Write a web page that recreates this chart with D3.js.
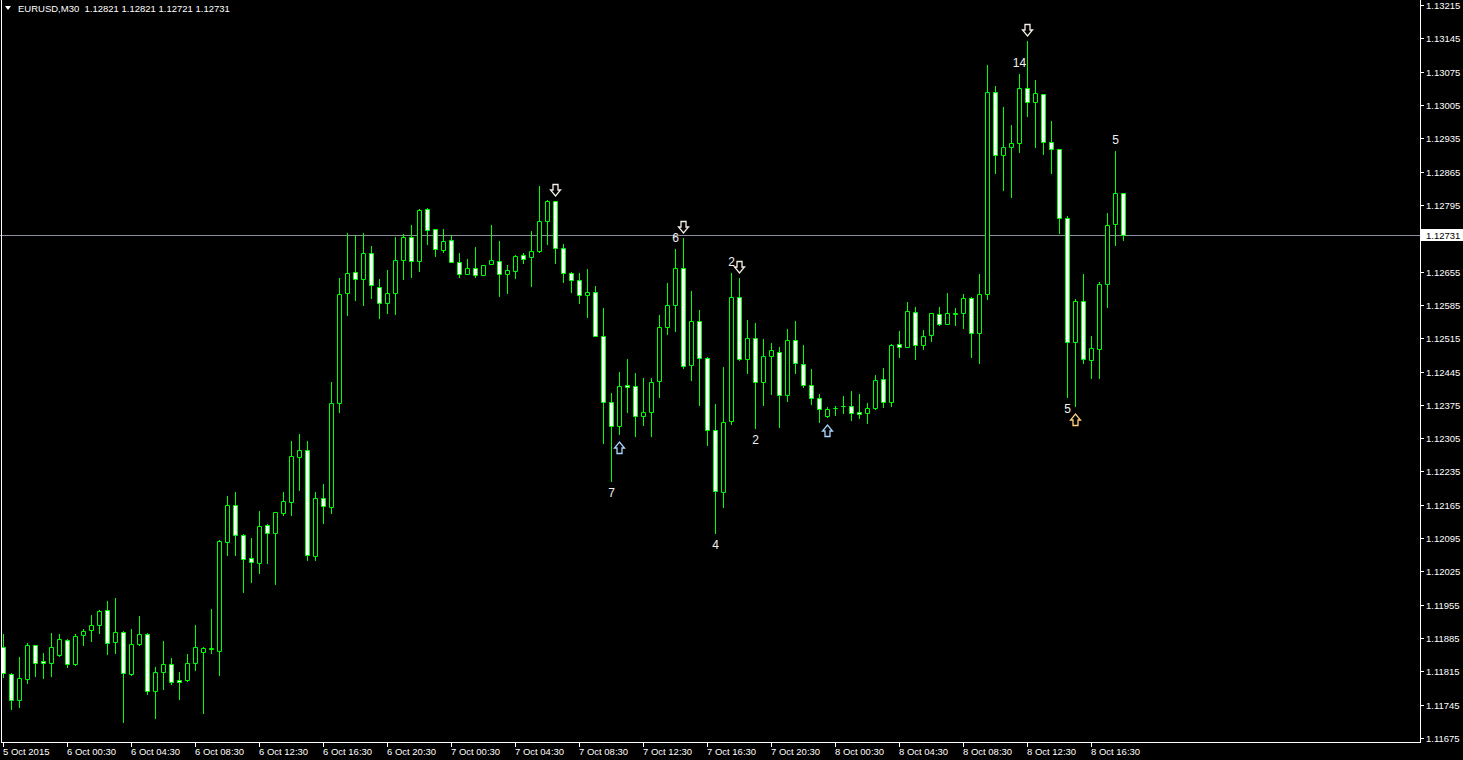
<!DOCTYPE html>
<html><head><meta charset="utf-8">
<script src="https://cdn.jsdelivr.net/npm/d3@7"></script>
<style>html,body{margin:0;padding:0;background:#000;overflow:hidden}svg{display:block}</style>
</head><body>
<svg id="c" width="1463" height="760"></svg>
<script>
const headerText = "EURUSD,M30  1.12821 1.12821 1.12721 1.12731";
const opens = [1.11866,1.11809,1.11755,1.11799,1.11870,1.11837,1.11833,1.11849,1.11881,1.11830,
1.11891,1.11902,1.11912,1.11944,1.11877,1.11898,1.11809,1.11872,1.11893,1.11774,
1.11814,1.11830,1.11797,1.11797,1.11833,1.11856,1.11862,1.11858,1.12087,1.12164,
1.12101,1.12053,1.12043,1.12122,1.12106,1.12148,1.12171,1.12265,1.12280,1.12057,
1.12179,1.12160,1.12379,1.12610,1.12654,1.12639,1.12694,1.12623,1.12589,1.12610,
1.12679,1.12728,1.12677,1.12786,1.12744,1.12700,1.12721,1.12675,1.12650,1.12662,
1.12648,1.12671,1.12677,1.12650,1.12656,1.12690,1.12686,1.12698,1.12761,1.12803,
1.12704,1.12652,1.12637,1.12606,1.12612,1.12520,1.12381,1.12330,1.12417,1.12414,
1.12351,1.12360,1.12425,1.12538,1.12585,1.12662,1.12459,1.12551,1.12473,1.12322,
1.12192,1.12341,1.12601,1.12471,1.12515,1.12423,1.12478,1.12486,1.12396,1.12511,
1.12461,1.12417,1.12389,1.12351,1.12368,1.12372,1.12372,1.12360,1.12358,1.12368,
1.12429,1.12381,1.12503,1.12496,1.12570,1.12501,1.12522,1.12566,1.12545,1.12566,
1.12568,1.12599,1.12526,1.12608,1.13032,1.12900,1.12917,1.12925,1.13041,1.13011,
1.13028,1.12927,1.12912,1.12767,1.12507,1.12593,1.12469,1.12492,1.12629,1.12755,
1.12821];
const highs = [1.11893,1.11811,1.11845,1.11875,1.11871,1.11854,1.11896,1.11893,1.11883,1.11893,
1.11904,1.11933,1.11944,1.11963,1.11969,1.11900,1.11904,1.11931,1.11896,1.11824,
1.11879,1.11843,1.11814,1.11851,1.11912,1.11866,1.11946,1.12091,1.12183,1.12192,
1.12104,1.12095,1.12152,1.12125,1.12150,1.12192,1.12299,1.12314,1.12299,1.12192,
1.12209,1.12423,1.12641,1.12736,1.12732,1.12736,1.12709,1.12639,1.12658,1.12728,
1.12734,1.12753,1.12786,1.12788,1.12745,1.12744,1.12732,1.12694,1.12681,1.12707,
1.12669,1.12753,1.12719,1.12669,1.12690,1.12694,1.12740,1.12835,1.12805,1.12804,
1.12713,1.12654,1.12652,1.12660,1.12625,1.12578,1.12400,1.12444,1.12471,1.12442,
1.12431,1.12431,1.12564,1.12631,1.12702,1.12725,1.12614,1.12574,1.12475,1.12377,
1.12454,1.12652,1.12641,1.12553,1.12547,1.12513,1.12505,1.12496,1.12534,1.12551,
1.12501,1.12450,1.12398,1.12370,1.12372,1.12393,1.12404,1.12398,1.12379,1.12438,
1.12452,1.12503,1.12530,1.12591,1.12580,1.12532,1.12568,1.12580,1.12610,1.12578,
1.12608,1.12601,1.12650,1.13089,1.13045,1.13001,1.12963,1.13070,1.13139,1.13057,
1.13029,1.12971,1.12913,1.12772,1.12597,1.12650,1.12520,1.12633,1.12778,1.12908,
1.12821];
const lows = [1.11803,1.11736,1.11740,1.11791,1.11805,1.11801,1.11805,1.11847,1.11824,1.11828,
1.11870,1.11879,1.11896,1.11851,1.11854,1.11709,1.11808,1.11870,1.11767,1.11717,
1.11778,1.11788,1.11757,1.11795,1.11818,1.11727,1.11854,1.11807,1.12059,1.12059,
1.11982,1.12003,1.12022,1.12043,1.11998,1.12143,1.12143,1.12196,1.12049,1.12049,
1.12127,1.12148,1.12360,1.12564,1.12595,1.12585,1.12599,1.12557,1.12568,1.12566,
1.12639,1.12644,1.12656,1.12713,1.12688,1.12696,1.12675,1.12644,1.12649,1.12644,
1.12647,1.12670,1.12604,1.12610,1.12641,1.12673,1.12625,1.12697,1.12713,1.12673,
1.12633,1.12612,1.12589,1.12559,1.12520,1.12295,1.12215,1.12314,1.12360,1.12309,
1.12333,1.12309,1.12391,1.12524,1.12530,1.12452,1.12427,1.12375,1.12291,1.12106,
1.12160,1.12335,1.12469,1.12442,1.12326,1.12375,1.12398,1.12328,1.12383,1.12442,
1.12412,1.12377,1.12339,1.12350,1.12354,1.12358,1.12343,1.12347,1.12337,1.12367,
1.12370,1.12372,1.12475,1.12496,1.12471,1.12492,1.12509,1.12543,1.12544,1.12543,
1.12536,1.12475,1.12463,1.12597,1.12862,1.12826,1.12812,1.12906,1.12982,1.12917,
1.12902,1.12862,1.12736,1.12391,1.12372,1.12463,1.12431,1.12431,1.12580,1.12711,
1.12721];
const closes = [1.11812,1.11755,1.11801,1.11870,1.11833,1.11833,1.11866,1.11883,1.11830,1.11889,
1.11900,1.11912,1.11942,1.11875,1.11898,1.11812,1.11872,1.11893,1.11774,1.11814,
1.11830,1.11793,1.11793,1.11833,1.11866,1.11864,1.11864,1.12089,1.12164,1.12101,
1.12051,1.12045,1.12120,1.12106,1.12150,1.12173,1.12267,1.12280,1.12059,1.12179,
1.12162,1.12379,1.12608,1.12652,1.12639,1.12694,1.12627,1.12589,1.12610,1.12679,
1.12728,1.12677,1.12784,1.12742,1.12702,1.12719,1.12675,1.12650,1.12662,1.12648,
1.12669,1.12679,1.12650,1.12658,1.12688,1.12681,1.12698,1.12761,1.12803,1.12704,
1.12652,1.12637,1.12606,1.12612,1.12520,1.12381,1.12330,1.12414,1.12412,1.12351,
1.12360,1.12423,1.12538,1.12585,1.12662,1.12457,1.12551,1.12473,1.12322,1.12194,
1.12339,1.12601,1.12471,1.12515,1.12423,1.12478,1.12490,1.12396,1.12511,1.12463,
1.12417,1.12389,1.12366,1.12366,1.12368,1.12372,1.12358,1.12356,1.12368,1.12427,
1.12381,1.12501,1.12496,1.12572,1.12501,1.12520,1.12568,1.12545,1.12568,1.12568,
1.12599,1.12526,1.12608,1.13032,1.12900,1.12917,1.12925,1.13041,1.13011,1.13030,
1.12927,1.12912,1.12767,1.12507,1.12593,1.12471,1.12494,1.12629,1.12753,1.12820,
1.12731];
const timeTickIndex = [0,8,16,24,32,40,48,56,64,72,80,88,96,104,112,120,128,136];
const timeTickLabels = ["5 Oct 2015","6 Oct 00:30","6 Oct 04:30","6 Oct 08:30","6 Oct 12:30","6 Oct 16:30",
"6 Oct 20:30","7 Oct 00:30","7 Oct 04:30","7 Oct 08:30","7 Oct 12:30","7 Oct 16:30","7 Oct 20:30",
"8 Oct 00:30","8 Oct 04:30","8 Oct 08:30","8 Oct 12:30","8 Oct 16:30"];
const priceTicks = [1.13215,1.13145,1.13075,1.13005,1.12935,1.12865,1.12795,1.12725,1.12655,1.12585,
1.12515,1.12445,1.12375,1.12305,1.12235,1.12165,1.12095,1.12025,1.11955,1.11885,1.11815,1.11745,1.11675];
const lastPrice = 1.12731;
const downArrowBars = [69,85,92,128];
const upArrowBars = [77,103,134];
const waveLabelBars = [76,84,89,91,94,127,133,139];
const waveLabelTexts = ["7","6","4","2","2","14","5","5"];
const waveLabelSide = ["low","high","low","high","low","high","low","high"];

const svg = d3.select("#c");
const FONT = "'Liberation Sans', Arial, sans-serif";
svg.append("rect").attr("width",1463).attr("height",760).attr("fill","#000");

const n = opens.length;
const x = d3.scaleLinear().domain([0, n-1]).range([3, 1123]);
const y = d3.scaleLinear().domain([1.11675, 1.13215]).range([738, 5]);
const px = i => Math.round(x(i));
const py = v => Math.round(y(v));

const bars = d3.range(n).map(i => ({i, o:opens[i], h:highs[i], l:lows[i], c:closes[i]}));

const plot = svg.append("g");
plot.append("line").attr("x1",0).attr("x2",1420).attr("y1",py(lastPrice)+0.5).attr("y2",py(lastPrice)+0.5)
  .attr("stroke","#8a909c").attr("stroke-width",1);

plot.selectAll("line.wick").data(bars).join("line").attr("class","wick")
  .attr("x1",d=>px(d.i)+0.5).attr("x2",d=>px(d.i)+0.5)
  .attr("y1",d=>py(d.h)).attr("y2",d=>py(d.l)+1)
  .attr("stroke","#00ff00").attr("stroke-width",1);
plot.selectAll("path.body").data(bars).join("path").attr("class","body")
  .attr("d",d=>{
    const cx = px(d.i), t = Math.min(py(d.o),py(d.c)), b = Math.max(py(d.o),py(d.c));
    return `M${cx-2+0.5},${t+0.5}H${cx+2+0.5}V${b+0.5}H${cx-2+0.5}Z`;
  })
  .attr("fill",d=> d.c < d.o ? "#ffffff" : "#000000")
  .attr("stroke","#00ff00").attr("stroke-width",1);

// hollow arrows drawn as outlined paths
const downArrow = (cx, cy) => {
  // 11 wide, 12 tall, centered at (cx, cy)
  const l = cx - 5, r = cx + 5, t = cy - 6, b = cy + 6;
  return `M${cx-2.5},${t+0.5}H${cx+2.5}V${cy}H${r}L${cx},${b}L${l},${cy}H${cx-2.5}Z`;
};
const upArrow = (cx, cy) => {
  const l = cx - 5, r = cx + 5, t = cy - 6, b = cy + 6;
  return `M${cx-2.5},${b-0.5}H${cx+2.5}V${cy}H${r}L${cx},${t}L${l},${cy}H${cx-2.5}Z`;
};
plot.selectAll("path.dn").data(downArrowBars).join("path").attr("class","dn")
  .attr("d",i=>downArrow(px(i)+0.5, py(highs[i])-11))
  .attr("fill","none").attr("stroke","#f6efe6").attr("stroke-width",1.3);
plot.selectAll("path.up").data(upArrowBars).join("path").attr("class","up")
  .attr("d",i=>upArrow(px(i)+0.5, py(lows[i])+14))
  .attr("fill","none").attr("stroke",(i,k)=> k===2 ? "#ffd27a" : "#a8d4ff").attr("stroke-width",1.3);

plot.selectAll("text.wl").data(waveLabelBars).join("text").attr("class","wl")
  .attr("x",i=>px(i)+0.5)
  .attr("y",(i,k)=> waveLabelSide[k]==="high" ? py(highs[i])-11 : py(lows[i])+12)
  .attr("text-anchor","middle").attr("dominant-baseline","central")
  .attr("font-family",FONT).attr("font-size",12).attr("fill","#f2f2f2")
  .text((i,k)=>waveLabelTexts[k]);

// frame
svg.append("line").attr("x1",1.5).attr("x2",1.5).attr("y1",0).attr("y2",743).attr("stroke","#fff");
svg.append("line").attr("x1",1420.5).attr("x2",1420.5).attr("y1",0).attr("y2",743).attr("stroke","#fff");
svg.append("line").attr("x1",1).attr("x2",1421).attr("y1",742.5).attr("y2",742.5).attr("stroke","#fff");

// price axis
const pa = svg.append("g");
pa.selectAll("line").data(priceTicks).join("line")
  .attr("x1",1421).attr("x2",1424).attr("y1",d=>py(d)+0.5).attr("y2",d=>py(d)+0.5).attr("stroke","#fff");
pa.selectAll("text").data(priceTicks.filter(d => Math.abs(py(d)-py(lastPrice)) > 8)).join("text")
  .attr("x",1426).attr("y",d=>py(d)+0.5).attr("dominant-baseline","central")
  .attr("font-family",FONT).attr("font-size",9.5).attr("fill","#fff").text(d=>d.toFixed(5));
svg.append("rect").attr("x",1421).attr("y",py(lastPrice)-6).attr("width",42).attr("height",12).attr("fill","#fff");
svg.append("text").attr("x",1426).attr("y",py(lastPrice)+0.5).attr("dominant-baseline","central")
  .attr("font-family",FONT).attr("font-size",9.5).attr("fill","#000").text(lastPrice.toFixed(5));

// time axis
const ta = svg.append("g");
ta.selectAll("line").data(timeTickIndex).join("line")
  .attr("x1",i=>px(i)+0.5).attr("x2",i=>px(i)+0.5).attr("y1",743).attr("y2",747).attr("stroke","#fff");
ta.selectAll("text").data(timeTickIndex).join("text")
  .attr("x",(i)=>px(i)).attr("y",755)
  .attr("font-family",FONT).attr("font-size",9.5).attr("fill","#fff")
  .text((i,k)=>timeTickLabels[k]);

// header
svg.append("path").attr("d","M5,6H11L8,10Z").attr("fill","#fff");
svg.append("text").attr("x",18).attr("y",12).attr("font-family",FONT).attr("font-size",9.5)
  .attr("fill","#fff").attr("xml:space","preserve").style("white-space","pre").text(headerText);
</script>
</body></html>
